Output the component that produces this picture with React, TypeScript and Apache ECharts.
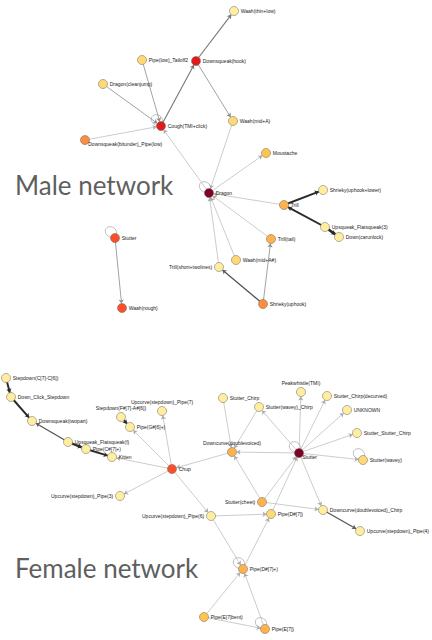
import React, { useEffect, useRef } from "react";
import * as echarts from "echarts";

// ---------- Male network ----------
const maleNames = [
  "Waah(thin+low)", "Downsqueak(hook)", "Pipe(low)_Tailoff2", "Dragon(cleanjump)",
  "Cough(TMI+click)", "Downsqueak(bitunder)_Pipe(low)", "Waah(mid+A)", "Moustache",
  "Dragon", "Trill", "Shrieky(uphook+lower)", "Upsqueak_Flatsqueak(3)", "Down(carunlock)",
  "Trill(tail)", "Waah(mid+A#)", "Trill(short+twolines)", "Shrieky(uphook)",
  "Stutter", "Waah(rough)",
];
const maleX = [234, 196, 142, 103, 161, 85, 233, 266, 209, 284, 323, 325, 339, 271, 236, 219, 263, 115, 122];
const maleY = [11, 61, 60, 84, 126, 140, 121, 153, 193, 205, 190, 227, 237, 239, 260, 267, 304, 238, 308];
const maleColors = [
  "#ffeda0", "#e31a1c", "#fed976", "#fed976", "#e31a1c", "#fd8d3c", "#fed976", "#fec44f",
  "#800026", "#feb24c", "#ffeda0", "#ffeda0", "#ffeda0", "#feb24c", "#fed976", "#ffeda0",
  "#fd8d3c", "#fc4e2a", "#fc4e2a",
];
const maleLabelPos = [
  "right", "right", "right", "right", "right", "belowRight", "right", "right",
  "right", "right", "right", "right", "right", "right", "right", "left", "right", "right", "right",
];
const maleLinks: [string, string, number][] = [
  ["Downsqueak(hook)", "Waah(thin+low)", 2],
  ["Cough(TMI+click)", "Downsqueak(hook)", 2],
  ["Downsqueak(hook)", "Waah(mid+A)", 1.5],
  ["Pipe(low)_Tailoff2", "Cough(TMI+click)", 1.5],
  ["Dragon(cleanjump)", "Cough(TMI+click)", 1.5],
  ["Downsqueak(bitunder)_Pipe(low)", "Cough(TMI+click)", 1],
  ["Dragon", "Cough(TMI+click)", 1],
  ["Waah(mid+A)", "Dragon", 1],
  ["Dragon", "Moustache", 1],
  ["Trill", "Dragon", 1],
  ["Trill", "Shrieky(uphook+lower)", 3],
  ["Upsqueak_Flatsqueak(3)", "Trill", 3],
  ["Upsqueak_Flatsqueak(3)", "Down(carunlock)", 4],
  ["Trill(tail)", "Dragon", 1],
  ["Waah(mid+A#)", "Dragon", 1],
  ["Trill(short+twolines)", "Dragon", 1],
  ["Shrieky(uphook)", "Trill(short+twolines)", 2.5],
  ["Shrieky(uphook)", "Trill(tail)", 1.5],
  ["Stutter", "Waah(rough)", 1.5],
];
const maleLoops = ["Cough(TMI+click)", "Dragon", "Stutter"];

// ---------- Female network ----------
const femaleNames = [
  "Stepdown(C[7]-C[6])", "Down_Click_Stepdown", "Downsqueak(twopart)", "Upsqueak_Flatsqueak(f)",
  "Pipe(C#[7]+)", "Kitten", "Stepdown(F#[7]-A#[6])", "Pipe(G#[6]+)", "Upcurve(stepdown)_Pipe(7)",
  "Chup", "Upcurve(stepdown)_Pipe(3)", "Upcurve(stepdown)_Pipe(6)", "Stutter_Chirp",
  "Stutter(wavey)_Chirp", "Downcurve(doublevoiced)", "Peakwhistle(TMI)", "Stutter_Chirp(decurved)",
  "UNKNOWN", "Stutter_Stutter_Chirp", "Stutter(wavey)", "Stutter", "Stutter(cheet)",
  "Pipe(D#[7])", "Downcurve(doublevoiced)_Chirp", "Upcurve(stepdown)_Pipe(4)", "Pipe(D#[7]+)",
  "Pipe(E[7]bent)", "Pipe(E[7])",
];
const femaleX = [6, 11, 32, 68, 86, 112, 121, 130, 162, 172, 120, 211, 223, 259, 232, 301, 327, 347, 357, 363, 299, 262, 271, 323, 360, 243, 204, 265];
const femaleY = [378, 397, 421, 442, 449, 457, 417, 427, 411, 469, 496, 516, 398, 407, 452, 392, 396, 410, 433, 460, 453, 502, 514, 510, 531, 569, 617, 629];
const femaleColors = [
  "#ffeda0", "#ffeda0", "#ffeda0", "#ffeda0", "#ffeda0", "#ffeda0", "#ffeda0", "#ffeda0", "#ffeda0",
  "#fc4e2a", "#ffeda0", "#ffeda0", "#ffeda0", "#ffeda0", "#feb24c", "#ffeda0", "#ffeda0",
  "#ffeda0", "#ffeda0", "#fed976", "#800026", "#feb24c", "#fed976", "#ffeda0", "#ffeda0",
  "#feb24c", "#fec44f", "#feb24c",
];
const femaleLabelPos = [
  "right", "right", "right", "right", "right", "right", "top", "right", "top",
  "right", "left", "left", "right", "right", "top", "top", "right", "right", "right", "right",
  "belowRight", "left", "right", "right", "right", "right", "right", "right",
];
const femaleLinks: [string, string, number][] = [
  ["Stepdown(C[7]-C[6])", "Down_Click_Stepdown", 3],
  ["Down_Click_Stepdown", "Downsqueak(twopart)", 3],
  ["Upsqueak_Flatsqueak(f)", "Downsqueak(twopart)", 2.5],
  ["Upsqueak_Flatsqueak(f)", "Pipe(C#[7]+)", 3.5],
  ["Pipe(C#[7]+)", "Kitten", 3],
  ["Chup", "Kitten", 1],
  ["Stepdown(F#[7]-A#[6])", "Pipe(G#[6]+)", 3],
  ["Chup", "Pipe(G#[6]+)", 1],
  ["Chup", "Upcurve(stepdown)_Pipe(7)", 1],
  ["Chup", "Upcurve(stepdown)_Pipe(3)", 1],
  ["Chup", "Upcurve(stepdown)_Pipe(6)", 1],
  ["Downcurve(doublevoiced)", "Chup", 1],
  ["Stutter_Chirp", "Downcurve(doublevoiced)", 1],
  ["Stutter(wavey)_Chirp", "Downcurve(doublevoiced)", 1],
  ["Stutter", "Downcurve(doublevoiced)", 1],
  ["Stutter(cheet)", "Downcurve(doublevoiced)", 1],
  ["Stutter", "Stutter(wavey)_Chirp", 1],
  ["Stutter", "Peakwhistle(TMI)", 1],
  ["Stutter", "Stutter_Chirp(decurved)", 1],
  ["Stutter", "UNKNOWN", 1],
  ["Stutter", "Stutter_Stutter_Chirp", 1],
  ["Stutter", "Stutter(wavey)", 1],
  ["Stutter(cheet)", "Stutter", 1],
  ["Pipe(D#[7])", "Stutter", 1],
  ["Pipe(D#[7]+)", "Pipe(D#[7])", 1],
  ["Stutter", "Downcurve(doublevoiced)_Chirp", 1],
  ["Stutter(cheet)", "Downcurve(doublevoiced)_Chirp", 1],
  ["Downcurve(doublevoiced)_Chirp", "Upcurve(stepdown)_Pipe(4)", 2.5],
  ["Upcurve(stepdown)_Pipe(6)", "Pipe(D#[7])", 1],
  ["Upcurve(stepdown)_Pipe(6)", "Pipe(D#[7]+)", 1],
  ["Pipe(E[7]bent)", "Pipe(D#[7]+)", 1],
  ["Pipe(E[7])", "Pipe(D#[7]+)", 1],
  ["Pipe(E[7]bent)", "Pipe(E[7])", 1],
];
const femaleLoops = ["Stutter(wavey)", "Stutter", "Pipe(D#[7]+)", "Pipe(E[7])"];

const titles = ["Male network", "Female network"];

function labelFor(pos: string) {
  if (pos === "belowRight") return { position: [8, 6] as any, distance: 2 };
  return { position: pos, distance: 2 };
}

function edgeStyle(w: number) {
  if (w >= 3) return { width: w * 0.65, color: "#2a2a2a", opacity: 1 };
  if (w >= 2.5) return { width: 1.3, color: "#555", opacity: 1 };
  if (w >= 2) return { width: 1.1, color: "#777", opacity: 1 };
  if (w >= 1.5) return { width: 0.8, color: "#8c8c8c", opacity: 1 };
  return { width: 0.6, color: "#aaa", opacity: 1 };
}

function buildSeries(names: string[], xs: number[], ys: number[], colors: string[], pos: string[], links: [string, string, number][]) {
  return {
    type: "graph",
    coordinateSystem: "cartesian2d",
    layout: "none",
    symbol: "circle",
    symbolSize: 9,
    edgeSymbol: ["none", "arrow"],
    edgeSymbolSize: [0, 4],
    z: 3,
    itemStyle: { borderColor: "#666", borderWidth: 0.5 },
    label: {
      show: true,
      fontSize: 5,
      color: "#222",
      fontFamily: "Liberation Sans, Arial, sans-serif",
    },
    emphasis: { disabled: true },
    data: names.map((n, i) => ({
      name: n,
      value: [xs[i], ys[i]],
      itemStyle: { color: colors[i] },
      label: labelFor(pos[i]),
    })),
    links: links.map(([s, t, w]) => ({
      source: s,
      target: t,
      lineStyle: edgeStyle(w),
    })),
  };
}

function loopData(loops: string[], names: string[], xs: number[], ys: number[]) {
  return loops.map((n) => {
    const i = names.indexOf(n);
    return [xs[i], ys[i]];
  });
}

export default function App() {
  const ref = useRef<HTMLDivElement>(null);
  useEffect(() => {
    document.body.style.margin = "0";
    const chart = echarts.init(ref.current!, undefined, { renderer: "svg" });
    chart.setOption({
      animation: false,
      backgroundColor: "#fff",
      grid: { left: 0, right: 0, top: 0, bottom: 0 },
      xAxis: { type: "value", min: 0, max: 432, show: false },
      yAxis: { type: "value", min: 0, max: 640, inverse: true, show: false },
      graphic: [
        {
          type: "text", left: 15, top: 172, z: 1,
          style: { text: titles[0], fontSize: 26, fill: "#5f5f5f", fontFamily: "Lato, sans-serif" },
        },
        {
          type: "text", left: 15, top: 555, z: 1,
          style: { text: titles[1], fontSize: 26, fill: "#5f5f5f", fontFamily: "Lato, sans-serif" },
        },
      ],
      series: [
        {
          type: "scatter",
          name: "loops",
          z: 2,
          symbol: "circle",
          symbolSize: [12, 10],
          symbolOffset: [-4, -6],
          symbolRotate: -35,
          silent: true,
          itemStyle: { color: "rgba(0,0,0,0)", borderColor: "#999", borderWidth: 0.7 },
          data: [
            ...loopData(maleLoops, maleNames, maleX, maleY),
            ...loopData(femaleLoops, femaleNames, femaleX, femaleY),
          ],
        },
        buildSeries(maleNames, maleX, maleY, maleColors, maleLabelPos, maleLinks),
        buildSeries(femaleNames, femaleX, femaleY, femaleColors, femaleLabelPos, femaleLinks),
      ],
    });
    return () => chart.dispose();
  }, []);
  return <div ref={ref} style={{ width: 432, height: 640 }} />;
}
